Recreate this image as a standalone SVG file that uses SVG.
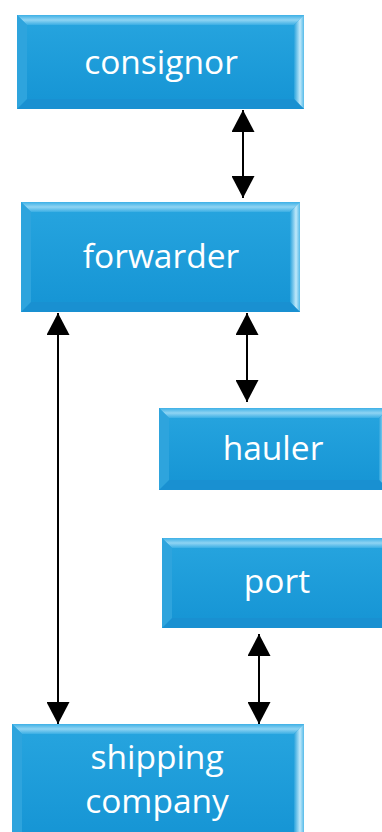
<svg xmlns="http://www.w3.org/2000/svg" width="382" height="832" viewBox="0 0 382 832">
<style>
.face{fill:url(#faceG);}
.bt{fill:url(#topG);}
.br{fill:url(#rightG);}
.bb{fill:#1a8fcf;opacity:0.8}
.bl{fill:#2ea4dd;}
.lbl{font-family:"Open Sans","Noto Sans","DejaVu Sans",sans-serif;font-size:33.5px;fill:#ffffff;text-anchor:middle}
.conn line{stroke:#000;stroke-width:2}
</style>
<defs>
<linearGradient id="faceG" x1="0" y1="0" x2="0" y2="1">
<stop offset="0" stop-color="#27a5df"/>
<stop offset="1" stop-color="#1594d4"/>
</linearGradient>
<linearGradient id="topG" x1="0" y1="0" x2="0" y2="1">
<stop offset="0" stop-color="#3db0e6"/>
<stop offset="0.5" stop-color="#8fd4f3"/>
<stop offset="1" stop-color="#3aaee4"/>
</linearGradient>
<linearGradient id="rightG" x1="0" y1="0" x2="1" y2="0">
<stop offset="0" stop-color="#2aa3dc"/>
<stop offset="0.6" stop-color="#bfe8fa"/>
<stop offset="1" stop-color="#56bbe9"/>
</linearGradient>
<marker id="ah" viewBox="0 0 23 23" markerWidth="23" markerHeight="23" refX="22" refY="11.5" orient="auto-start-reverse" markerUnits="userSpaceOnUse">
<path d="M0,0 L22,11.5 L0,23 Z" fill="#000"/>
</marker>
</defs>

<g id="consignor">
<rect class="face" x="17" y="15" width="287" height="94"/>
<polygon class="bt" points="17,15 304,15 294,25 27,25"/>
<polygon class="br" points="304,15 304,109 294,99 294,25"/>
<polygon class="bb" points="17,109 304,109 294,99 27,99"/>
<polygon class="bl" points="17,15 17,109 27,99 27,25"/>
<text class="lbl" x="161" y="74">consignor</text>
</g>

<g id="forwarder">
<rect class="face" x="21" y="202" width="279" height="110"/>
<polygon class="bt" points="21,202 300,202 290,212 31,212"/>
<polygon class="br" points="300,202 300,312 290,302 290,212"/>
<polygon class="bb" points="21,312 300,312 290,302 31,302"/>
<polygon class="bl" points="21,202 21,312 31,302 31,212"/>
<text class="lbl" x="161" y="268">forwarder</text>
</g>

<g id="hauler">
<rect class="face" x="159" y="408" width="230" height="82"/>
<polygon class="bt" points="159,408 389,408 379,418 169,418"/>
<polygon class="br" points="389,408 389,490 379,480 379,418"/>
<polygon class="bb" points="159,490 389,490 379,480 169,480"/>
<polygon class="bl" points="159,408 159,490 169,480 169,418"/>
<text class="lbl" x="273" y="460">hauler</text>
</g>

<g id="port">
<rect class="face" x="162" y="538" width="230" height="90"/>
<polygon class="bt" points="162,538 392,538 382,548 172,548"/>
<polygon class="bb" points="162,628 392,628 382,618 172,618"/>
<polygon class="bl" points="162,538 162,628 172,618 172,548"/>
<text class="lbl" x="277" y="593">port</text>
</g>

<g id="shipping-company">
<rect class="face" x="12" y="724" width="292" height="118"/>
<polygon class="bt" points="12,724 304,724 294,734 22,734"/>
<polygon class="br" points="304,724 304,842 294,832 294,734"/>
<polygon class="bl" points="12,724 12,842 22,832 22,734"/>
<text class="lbl" x="157" y="769">shipping</text>
<text class="lbl" x="157" y="813">company</text>
</g>

<g id="connectors" class="conn">
<line x1="243" y1="110" x2="243" y2="198" marker-start="url(#ah)" marker-end="url(#ah)"/>
<line x1="247" y1="313" x2="247" y2="402" marker-start="url(#ah)" marker-end="url(#ah)"/>
<line x1="58" y1="313" x2="58" y2="724" marker-start="url(#ah)" marker-end="url(#ah)"/>
<line x1="259" y1="634" x2="259" y2="724" marker-start="url(#ah)" marker-end="url(#ah)"/>
</g>
</svg>
